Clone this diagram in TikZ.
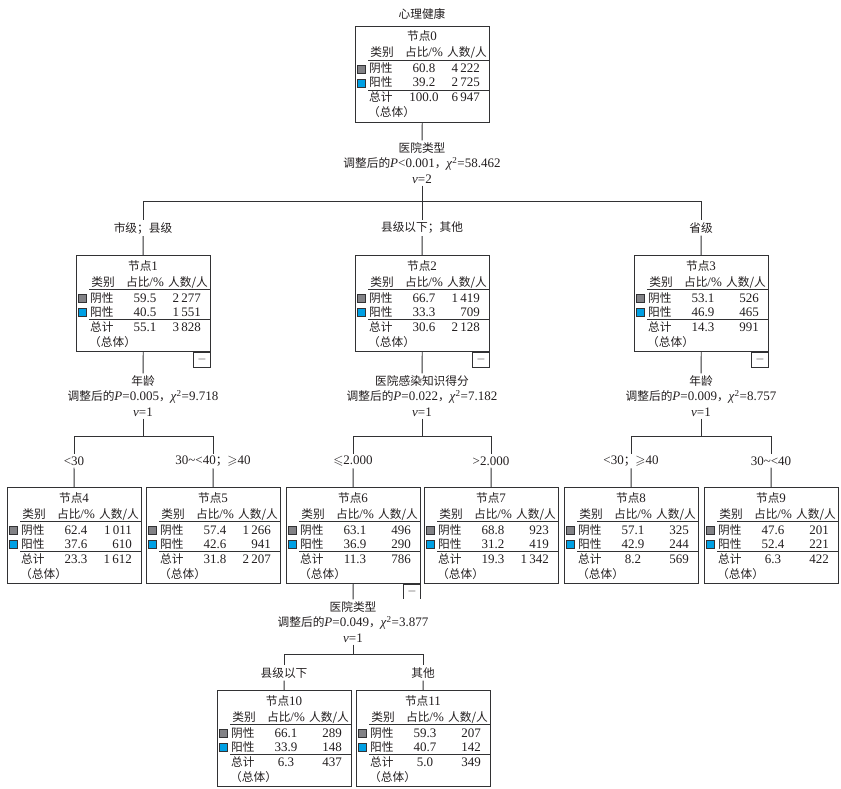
\documentclass[tikz,border=0pt]{standalone}
\usepackage{amssymb}
\usepackage{fontspec}
\setmainfont{Liberation Serif}
\newfontfamily\cjk[Scale=0.9]{Noto Sans CJK SC}
\newcommand\zh[1]{{\cjk #1}}
\newcommand\chisq{\textit{χ}\textsuperscript{2}}

\definecolor{inkcol}{RGB}{50,50,52}
\definecolor{txtcol}{RGB}{35,31,32}
\definecolor{negcol}{RGB}{130,130,134}
\definecolor{poscol}{RGB}{0,160,228}

\tikzset{
  box/.style={draw=inkcol,line width=0.9pt,anchor=north west,
    minimum width=134pt,minimum height=96pt,inner sep=0pt},
  cell/.style={inner sep=0pt,anchor=base},
  swatch/.style={draw=inkcol,line width=0.6pt,minimum size=8pt,inner sep=0pt},
  rowrule/.style={draw=inkcol,line width=0.6pt},
  lbl/.style={fill=white,inner sep=2pt,align=center},
  minusbox/.style={draw=inkcol,line width=0.8pt,anchor=north east,
    minimum width=17pt,minimum height=15pt,inner sep=0pt},
  link/.style={draw=inkcol,line width=0.9pt},
}

% #1 top-left corner, #2 node number, #3..#8 pct/count of neg, pos, total
\newcommand\tnode[8]{%
  \node[box] (n#2) at (#1) {};
  \node[cell] (n#2-t) at ([shift={(67,15)}]n#2.north west) {\zh{节点}#2};
  \node[cell] (n#2-h1) at ([shift={(27,31)}]n#2.north west) {\zh{类别}};
  \node[cell] (n#2-h2) at ([shift={(69,31)}]n#2.north west) {\zh{占比}/\%};
  \node[cell] (n#2-h3) at ([shift={(112,31)}]n#2.north west) {\zh{人数/人}};
  \draw[rowrule] ([shift={(13,34)}]n#2.north west) -- ([shift={(0,34)}]n#2.north east);
  \node[swatch,fill=negcol] (n#2-sn) at ([shift={(6,43)}]n#2.north west) {};
  \node[cell,anchor=base west] (n#2-ln) at ([shift={(14,47)}]n#2.north west) {\zh{阴性}};
  \node[cell] (n#2-pn) at ([shift={(69,47)}]n#2.north west) {#3};
  \node[cell,anchor=base east] (n#2-cn) at ([shift={(125,47)}]n#2.north west) {#4};
  \node[swatch,fill=poscol] (n#2-sp) at ([shift={(6,57)}]n#2.north west) {};
  \node[cell,anchor=base west] (n#2-lp) at ([shift={(14,61)}]n#2.north west) {\zh{阳性}};
  \node[cell] (n#2-pp) at ([shift={(69,61)}]n#2.north west) {#5};
  \node[cell,anchor=base east] (n#2-cp) at ([shift={(125,61)}]n#2.north west) {#6};
  \draw[rowrule] ([shift={(13,64)}]n#2.north west) -- ([shift={(0,64)}]n#2.north east);
  \node[cell,anchor=base west] (n#2-lt) at ([shift={(14,76)}]n#2.north west) {\zh{总计}};
  \node[cell] (n#2-pt) at ([shift={(69,76)}]n#2.north west) {#7};
  \node[cell,anchor=base east] (n#2-ct) at ([shift={(125,76)}]n#2.north west) {#8};
  \node[cell,anchor=base west] (n#2-lo) at ([shift={(13,91)}]n#2.north west) {\zh{（总体）}};
}

\begin{document}
\begin{tikzpicture}[x=1pt,y=-1pt,color=txtcol,font=\fontsize{13}{15.5}\selectfont]
  \useasboundingbox[fill=white] (0,0) rectangle (841,789);

  \node (title) at (422,14) {\zh{心理健康}};

  % tree nodes
  \tnode{355,26}{0}{60.8}{4\,222}{39.2}{2\,725}{100.0}{6\,947}
  \tnode{76,255}{1}{59.5}{2\,277}{40.5}{1\,551}{55.1}{3\,828}
  \tnode{355,255}{2}{66.7}{1\,419}{33.3}{709}{30.6}{2\,128}
  \tnode{634,255}{3}{53.1}{526}{46.9}{465}{14.3}{991}
  \tnode{7,487}{4}{62.4}{1\,011}{37.6}{610}{23.3}{1\,612}
  \tnode{146,487}{5}{57.4}{1\,266}{42.6}{941}{31.8}{2\,207}
  \tnode{286,487}{6}{63.1}{496}{36.9}{290}{11.3}{786}
  \tnode{424,487}{7}{68.8}{923}{31.2}{419}{19.3}{1\,342}
  \tnode{564,487}{8}{57.1}{325}{42.9}{244}{8.2}{569}
  \tnode{704,487}{9}{47.6}{201}{52.4}{221}{6.3}{422}
  \tnode{217,690}{10}{66.1}{289}{33.9}{148}{6.3}{437}
  \tnode{356,690}{11}{59.3}{207}{40.7}{142}{5.0}{349}

  \foreach \k in {1,2,3,6}
    \node[minusbox] (m\k) at (n\k.south east) {$-$};

  % split labels
  \node[lbl] (s0) at (422,163) {\zh{医院类型}\\\zh{调整后的}\textit{P}<0.001\zh{，}\chisq=58.462\\\textit{v}=2};
  \node[lbl] (s1) at (143,396) {\zh{年龄}\\\zh{调整后的}\textit{P}=0.005\zh{，}\chisq=9.718\\\textit{v}=1};
  \node[lbl] (s2) at (422,396) {\zh{医院感染知识得分}\\\zh{调整后的}\textit{P}=0.022\zh{，}\chisq=7.182\\\textit{v}=1};
  \node[lbl] (s3) at (701,396) {\zh{年龄}\\\zh{调整后的}\textit{P}=0.009\zh{，}\chisq=8.757\\\textit{v}=1};
  \node[lbl] (s6) at (353,622) {\zh{医院类型}\\\zh{调整后的}\textit{P}=0.049\zh{，}\chisq=3.877\\\textit{v}=1};

  \coordinate (j0) at (422,201);
  \coordinate (j1) at (143,436);
  \coordinate (j2) at (422,436);
  \coordinate (j3) at (701,436);
  \coordinate (j6) at (353,654);

  % branch labels
  \node[lbl] (b1) at (143,228) {\zh{市级；县级}};
  \node[lbl] (b2) at (422,228) {\zh{县级以下；其他}};
  \node[lbl] (b3) at (701,228) {\zh{省级}};
  \node[lbl] (b4) at (74,461) {<30};
  \node[lbl] (b5) at (213,461) {30\textasciitilde<40\zh{；}$\geqslant$40};
  \node[lbl] (b6) at (353,461) {$\leqslant$2.000};
  \node[lbl] (b7) at (491,461) {>2.000};
  \node[lbl] (b8) at (631,461) {<30\zh{；}$\geqslant$40};
  \node[lbl] (b9) at (771,461) {30\textasciitilde<40};
  \node[lbl] (b10) at (284,673) {\zh{县级以下}};
  \node[lbl] (b11) at (423,673) {\zh{其他}};

  % connectors
  \foreach \p in {0,1,2,3,6} {
    \draw[link] (n\p) -- (s\p);
    \draw[link] (s\p) -- (j\p);
  }
  \draw[link] (j0 -| b1) -- (j0 -| b3);
  \draw[link] (j1 -| b4) -- (j1 -| b5);
  \draw[link] (j2 -| b6) -- (j2 -| b7);
  \draw[link] (j3 -| b8) -- (j3 -| b9);
  \draw[link] (j6 -| b10) -- (j6 -| b11);
  \foreach \p/\c in {0/1,0/2,0/3,1/4,1/5,2/6,2/7,3/8,3/9,6/10,6/11} {
    \draw[link] (j\p -| b\c) -- (b\c);
    \draw[link] (b\c) -- (n\c);
  }
\end{tikzpicture}
\end{document}
